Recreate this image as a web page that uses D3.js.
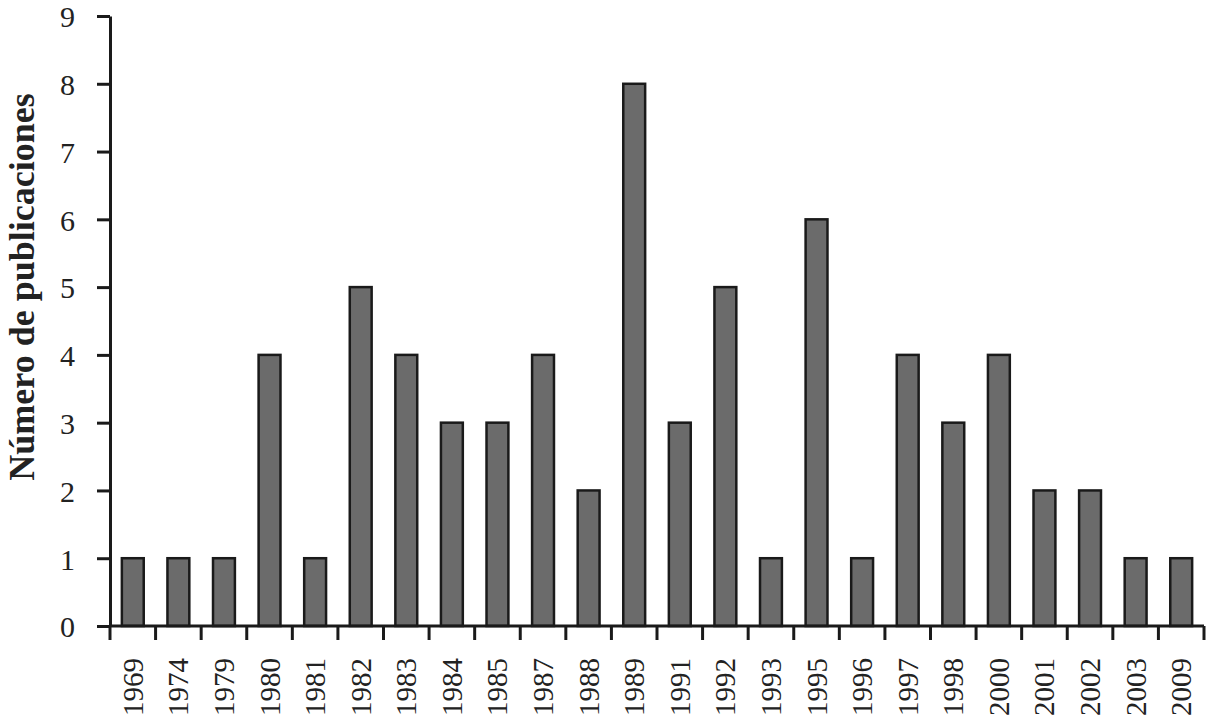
<!DOCTYPE html>
<html>
<head>
<meta charset="utf-8">
<script src="https://cdn.jsdelivr.net/npm/d3@7"></script>
<style>
  body { margin: 0; background: #fff; }
  svg text { font-family: "Liberation Serif", "Times New Roman", serif; fill: #222; }
</style>
</head>
<body>
<div id="chart"></div>
<script>
// years on the x axis
var years = ["1969","1974","1979","1980","1981","1982","1983","1984","1985","1987","1988","1989",
             "1991","1992","1993","1995","1996","1997","1998","2000","2001","2002","2003","2009"];
// number of publications per year
var counts = [1,1,1,4,1,5,4,3,3,4,2,8,3,5,1,6,1,4,3,4,2,2,1,1];
var yTicks = [0,1,2,3,4,5,6,7,8,9];

var width = 1207, height = 725;
var margin = {left: 110, right: 3, top: 16, bottom: 99};

var svg = d3.select("#chart").append("svg")
  .attr("width", width)
  .attr("height", height);

var x = d3.scaleBand()
  .domain(years)
  .range([margin.left, width - margin.right])
  .paddingInner(0.52)
  .paddingOuter(0.26);

var y = d3.scaleLinear()
  .domain([0, 9])
  .range([height - margin.bottom, margin.top]);

// bars
svg.selectAll("rect.bar")
  .data(years)
  .enter().append("rect")
  .attr("class", "bar")
  .attr("x", function(d){ return x(d); })
  .attr("y", function(d, i){ return y(counts[i]); })
  .attr("width", x.bandwidth())
  .attr("height", function(d, i){ return y(0) - y(counts[i]); })
  .style("fill", "#6b6b6b")
  .style("stroke", "#1a1a1a")
  .style("stroke-width", 2.5);

// y axis
var yAxis = svg.append("g")
  .attr("transform", "translate(" + margin.left + ",0)")
  .call(d3.axisLeft(y).tickValues(yTicks).tickSize(13).tickSizeOuter(0).tickPadding(22));
yAxis.select(".domain").style("stroke", "#1a1a1a").style("stroke-width", 3);
yAxis.selectAll(".tick line").style("stroke", "#1a1a1a").style("stroke-width", 3);
yAxis.selectAll(".tick text")
  .attr("dy", "0.36em")
  .style("font-size", "30px")
  .style("font-family", "Liberation Serif, serif")
  .style("fill", "#222");

// x axis line with ticks between categories
var bounds = d3.range(years.length + 1).map(function(i){ return margin.left + i * (width - margin.left - margin.right) / years.length; });
svg.append("line")
  .attr("x1", margin.left).attr("x2", width - margin.right)
  .attr("y1", y(0)).attr("y2", y(0))
  .style("stroke", "#1a1a1a").style("stroke-width", 3);
svg.selectAll("line.xtick")
  .data(bounds)
  .enter().append("line")
  .attr("class", "xtick")
  .attr("x1", function(d){ return d; }).attr("x2", function(d){ return d; })
  .attr("y1", y(0)).attr("y2", y(0) + 14)
  .style("stroke", "#1a1a1a").style("stroke-width", 3);

// x labels, rotated
svg.selectAll("text.xlab")
  .data(years)
  .enter().append("text")
  .attr("class", "xlab")
  .attr("transform", function(d){
    return "translate(" + (x(d) + x.bandwidth() / 2 + 10) + "," + (y(0) + 32) + ") rotate(-90)";
  })
  .attr("text-anchor", "end")
  .style("font-size", "29px")
  .text(function(d){ return d; });

// y title
svg.append("text")
  .attr("transform", "translate(34," + ((y(0) + y(9)) / 2 - 34) + ") rotate(-90)")
  .attr("text-anchor", "middle")
  .style("font-size", "36px")
  .style("font-weight", "bold")
  .text("Número de publicaciones");
</script>
</body>
</html>
